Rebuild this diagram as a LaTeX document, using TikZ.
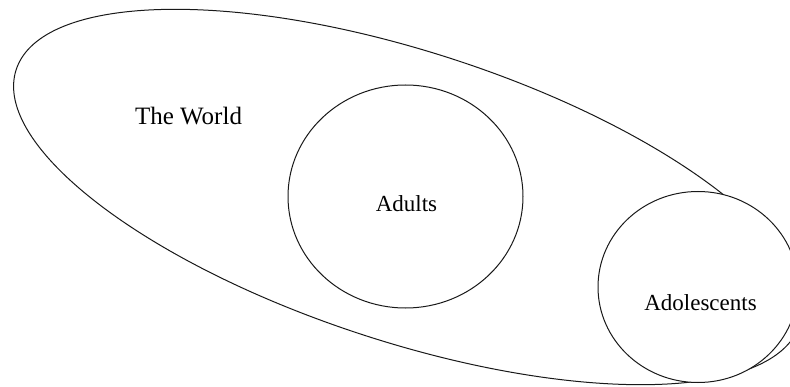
\documentclass[tikz,border=0pt]{standalone}
\usepackage{fontspec}
\setmainfont{Liberation Serif}
\usetikzlibrary{shapes.geometric}
\begin{document}
\begin{tikzpicture}[x=1pt,y=1pt,
  outline/.style={draw=black!90, line width=1pt},
  label/.style={anchor=base, inner sep=0pt, font=\fontsize{23}{27}\selectfont}]
\useasboundingbox (0,0) rectangle (790,386);
\clip (0,0) rectangle (790,386);
% The World
\draw[outline, rotate around={-18:(408,189)}] (408,189) ellipse [x radius=412, y radius=145];
% Adults
\node[outline, ellipse, fill=white, minimum width=235pt, minimum height=223pt, inner sep=0pt] (adults) at (405.5,189.5) {};
% Adolescents
\node[outline, ellipse, fill=white, minimum width=200pt, minimum height=191pt, inner sep=0pt] (adol) at (698,99) {};
\node[label, font=\fontsize{25}{29}\selectfont] (world) at (188.5,261) {The World};
\node[label] (adultstxt) at (406.5,174) {Adults};
\node[label] (adoltxt) at (700.5,76) {Adolescents};
\end{tikzpicture}
\end{document}
